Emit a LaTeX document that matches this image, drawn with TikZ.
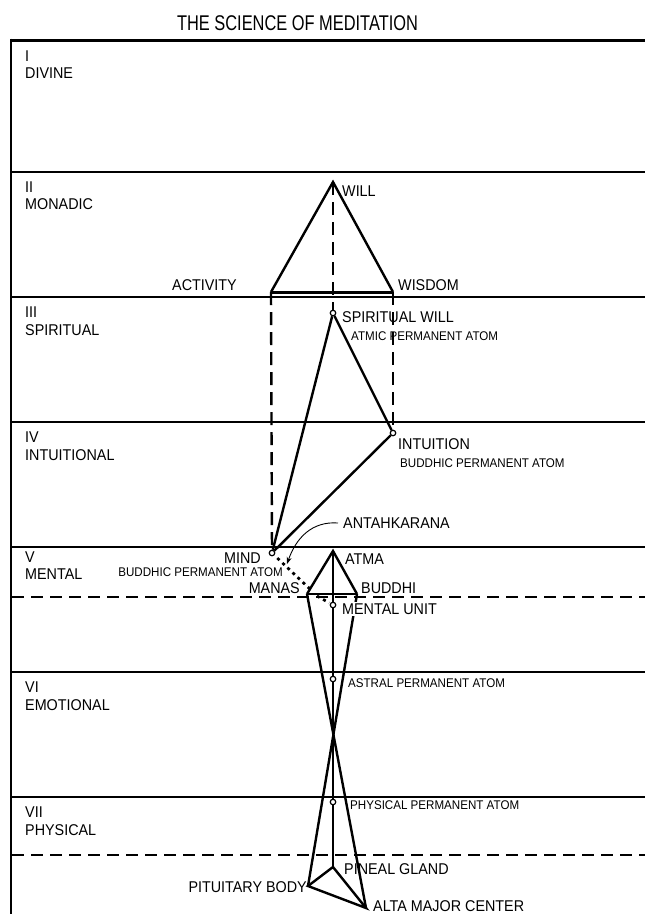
\documentclass[tikz,border=0pt]{standalone}
\usepackage{fontspec}
\setmainfont{Liberation Sans}
\newfontfamily\labfont[FakeStretch=0.92]{Liberation Sans}
\newfontfamily\titfont[FakeStretch=0.77]{Liberation Sans}
\usetikzlibrary{arrows.meta}
\begin{document}
\begin{tikzpicture}[x=1pt,y=-1pt,
  plane/.style={line width=2.6pt},
  dplane/.style={line width=2.6pt, dash pattern=on 12pt off 7pt},
  triline/.style={line width=2.4pt, line join=miter},
  vdash/.style={line width=2.4pt, dash pattern=on 13pt off 7pt},
  dotline/.style={line width=2.7pt, dash pattern=on 3pt off 4pt},
  atom/.style={circle, draw, fill=white, line width=1.2pt, inner sep=0pt, minimum size=5.5pt},
  lbig/.style={font=\labfont\fontsize{15.6}{17}\selectfont, inner sep=0pt},
  lsmall/.style={font=\labfont\fontsize{12.6}{14}\selectfont, inner sep=0pt},
]
\useasboundingbox (0,0) rectangle (645,914);

% title
\node[font=\titfont\fontsize{21.3}{24}\selectfont, inner sep=0pt] (title) at (297.5,23) {THE SCIENCE OF MEDITATION};

% frame and planes
\draw[line width=3pt] (11,40) -- (645,40);
\draw[plane] (11,38.5) -- (11,914);
\foreach \yy in {172,297,422,547,672,797} \draw[plane] (11,\yy) -- (645,\yy);
\foreach \yy in {597,855} \draw[dplane] (12,\yy) -- (645,\yy);

% plane labels
\node[lbig, anchor=west] (n1) at (25,56) {I};
\node[lbig, anchor=west] (l1) at (25,73) {DIVINE};
\node[lbig, anchor=west] (n2) at (25,187) {II};
\node[lbig, anchor=west] (l2) at (25,204) {MONADIC};
\node[lbig, anchor=west] (n3) at (25,312) {III};
\node[lbig, anchor=west] (l3) at (25,330) {SPIRITUAL};
\node[lbig, anchor=west] (n4) at (25,437) {IV};
\node[lbig, anchor=west] (l4) at (25,455) {INTUITIONAL};
\node[lbig, anchor=west] (n5) at (25,557) {V};
\node[lbig, anchor=west] (l5) at (25,574) {MENTAL};
\node[lbig, anchor=west] (n6) at (25,687) {VI};
\node[lbig, anchor=west] (l6) at (25,705) {EMOTIONAL};
\node[lbig, anchor=west] (n7) at (25,812) {VII};
\node[lbig, anchor=west] (l7) at (25,830) {PHYSICAL};

% points
\coordinate (will) at (333,182);
\coordinate (act) at (271,292);
\coordinate (wis) at (393,292);
\node[atom] (sw) at (333,313) {};
\node[atom] (intu) at (393,433) {};
\node[atom] (mind) at (272,553) {};
\coordinate (atma) at (333,551);
\coordinate (manas) at (307,594);
\coordinate (buddhi) at (357,594);
\coordinate (manasdot) at (311,590);
\coordinate (mudot) at (317,596);
\node[atom] (mu) at (333,605) {};
\node[atom] (astral) at (333,679) {};
\node[atom] (phys) at (333,802) {};
\coordinate (pineal) at (333,867);
\coordinate (pit) at (308,886);
\coordinate (alta) at (366,908);

% monadic triangle
\draw[triline] (act) -- (will) -- (wis);
\draw[line width=3pt] (act) -- (wis);
\draw[vdash] (will) -- (sw);
\draw[vdash] (act) -- (mind);
\draw[vdash] (wis) -- (intu);

% spiritual triangle
\draw[triline] (sw) -- (intu);
\draw[triline] (sw) -- (mind);
\draw[triline] (intu) -- (mind);

% lower triad
\draw[triline] (manas) -- (atma) -- (buddhi);
\draw[line width=2.7pt] (manas) -- (buddhi);
\draw[triline] (atma) -- (mu);
\draw[triline] (mu) -- (astral);
\draw[triline] (astral) -- (phys);
\draw[triline] (phys) -- (pineal);
\draw[dotline, shorten <=4pt] (mind) -- (manasdot);
\draw[dotline, shorten >=1pt] (mudot) -- (mu);

% crossing lines and glands
\draw[triline] (manas) -- (alta);
\draw[triline] (buddhi) -- (pit);
\draw[triline] (pit) -- (pineal) -- (alta) -- cycle;

% labels
\node[lbig, anchor=west] (lwill) at (342,191) {WILL};
\node[lbig, anchor=east] (lact) at (237,285) {ACTIVITY};
\node[lbig, anchor=west] (lwis) at (398,285) {WISDOM};
\node[lbig, anchor=west] (lsw) at (342,317) {SPIRITUAL WILL};
\node[lsmall, anchor=west] (latmic) at (351,336) {ATMIC PERMANENT ATOM};
\node[lbig, anchor=west] (lint) at (398,444) {INTUITION};
\node[lsmall, anchor=west] (lbpa) at (400,463) {BUDDHIC PERMANENT ATOM};
\node[lbig, anchor=west] (lant) at (343,523) {ANTAHKARANA};
\node[lbig, anchor=east] (lmind) at (261,558) {MIND};
\node[lsmall, anchor=east] (lbpa2) at (283,572) {BUDDHIC PERMANENT ATOM};
\node[lbig, anchor=east] (lmanas) at (300,588) {MANAS};
\node[lbig, anchor=west] (latma) at (345,559) {ATMA};
\node[lbig, anchor=west] (lbud) at (361,588) {BUDDHI};
\node[lbig, anchor=west, fill=white, inner ysep=2pt, inner xsep=1pt] (lmu) at (341,609) {MENTAL UNIT};
\node[lsmall, anchor=west] (lastral) at (348,683) {ASTRAL PERMANENT ATOM};
\node[lsmall, anchor=west] (lphys) at (350,805) {PHYSICAL PERMANENT ATOM};
\node[lbig, anchor=west] (lpin) at (344,869) {PINEAL GLAND};
\node[lbig, anchor=east] (lpit) at (307,887) {PITUITARY BODY};
\node[lbig, anchor=west] (lalta) at (373,906.5) {ALTA MAJOR CENTER};

% antahkarana arrow
\coordinate (antend) at (287,564);
\draw[line width=0.9pt, -{Stealth[length=7pt,width=5pt]}] ([xshift=-5pt]lant.west) .. controls (312,521) and (296,538) .. (antend);
\end{tikzpicture}
\end{document}
